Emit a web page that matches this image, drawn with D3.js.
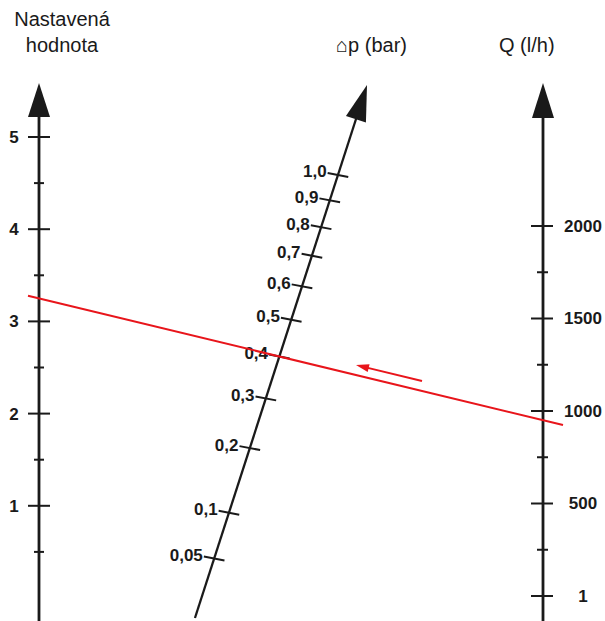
<!DOCTYPE html>
<html><head><meta charset="utf-8">
<script src="https://cdn.jsdelivr.net/npm/d3@7/dist/d3.min.js"></script>
<style>body{margin:0;background:#fff}svg{display:block}</style>
</head><body>
<svg id="c" width="605" height="621"></svg>
<script>
// ---- data ----
const settingMajor = [1, 2, 3, 4, 5];
const settingMinor = [0.5, 1.5, 2.5, 3.5, 4.5];
const dpTicks = [0.05, 0.1, 0.2, 0.3, 0.4, 0.5, 0.6, 0.7, 0.8, 0.9, 1.0];
const dpLabels = ["0,05", "0,1", "0,2", "0,3", "0,4", "0,5", "0,6", "0,7", "0,8", "0,9", "1,0"];
const qMajor = [0, 500, 1000, 1500, 2000];
const qLabels = ["1", "500", "1000", "1500", "2000"];
const qMinor = [250, 750, 1250, 1750];
const reading = {setting: 3.25, dp: 0.4, q: 950};
const titles = ["Nastavená", "hodnota", "⌂p (bar)", "Q (l/h)"];

// ---- scales ----
const svg = d3.select("#c");
const xL = 39, xR = 543;
const yL = d3.scaleLinear().domain([0, 5]).range([598, 137]);
const yR = d3.scaleLinear().domain([0, 2000]).range([596, 226]);
const yM = d3.scaleSqrt().domain([0, 1]).range([669, 175]);
const xM = d3.scaleLinear().domain([669, 85]).range([178.5, 367]);
const ink = "#1a1a1a", red = "#e8151b";
const tf = "Liberation Sans, Arial, sans-serif";
const fs = 17, tfs = 20;

// direction of slanted axis
const dx = xM(85) - xM(669), dy = 85 - 669, len = Math.hypot(dx, dy);
const ux = dx / len, uy = dy / len;       // along axis (up)
const pl = Math.hypot(1, 0.19), px = 1 / pl, py = 0.19 / pl;  // tick direction

// ---- left axis ----
svg.append("line").attr("x1", xL).attr("x2", xL).attr("y1", 110).attr("y2", 621)
  .attr("stroke", ink).attr("stroke-width", 2.8);
svg.append("path").attr("d", `M${xL},83 L${xL-11},117 L${xL+11},117 Z`).attr("fill", ink);
svg.selectAll(".lmaj").data(settingMajor).join("line")
  .attr("x1", xL - 11).attr("x2", xL + 11).attr("y1", d => yL(d)).attr("y2", d => yL(d))
  .attr("stroke", ink).attr("stroke-width", 2);
svg.selectAll(".lmin").data(settingMinor).join("line")
  .attr("x1", xL - 5).attr("x2", xL + 5).attr("y1", d => yL(d)).attr("y2", d => yL(d))
  .attr("stroke", ink).attr("stroke-width", 2);
svg.selectAll(".llab").data(settingMajor).join("text")
  .attr("x", 14).attr("y", d => yL(d)).attr("dy", "0.35em").attr("text-anchor", "middle")
  .attr("font-family", tf).attr("font-weight", "bold")
  .attr("font-size", fs).attr("fill", ink).text(d => d);

// ---- right axis ----
svg.append("line").attr("x1", xR).attr("x2", xR).attr("y1", 110).attr("y2", 621)
  .attr("stroke", ink).attr("stroke-width", 2.8);
svg.append("path").attr("d", `M${xR},83 L${xR-11},118 L${xR+11},118 Z`).attr("fill", ink);
svg.selectAll(".rmaj").data(qMajor).join("line")
  .attr("x1", xR - 12).attr("x2", xR + 10).attr("y1", d => yR(d)).attr("y2", d => yR(d))
  .attr("stroke", ink).attr("stroke-width", 2);
svg.selectAll(".rmin").data(qMinor).join("line")
  .attr("x1", xR - 6).attr("x2", xR + 5).attr("y1", d => yR(d)).attr("y2", d => yR(d))
  .attr("stroke", ink).attr("stroke-width", 2);
svg.selectAll(".rlab").data(qMajor).join("text")
  .attr("x", 583).attr("y", d => yR(d)).attr("dy", "0.35em").attr("text-anchor", "middle")
  .attr("font-family", tf).attr("font-weight", "bold")
  .attr("font-size", fs).attr("fill", ink).text((d, i) => qLabels[i]);

// ---- slanted Δp axis ----
svg.append("line").attr("x1", xM(618)).attr("y1", 618).attr("x2", xM(112)).attr("y2", 112)
  .attr("stroke", ink).attr("stroke-width", 2.3);
{
  const tx = xM(85), ty = 85, bl = 36, hw = 10.5;
  const bx = tx - ux * bl, by = ty - uy * bl;
  const nx = -uy, ny = ux;
  svg.append("path").attr("d",
    `M${tx},${ty} L${bx + nx*hw},${by + ny*hw} L${bx - nx*hw},${by - ny*hw} Z`).attr("fill", ink);
}
const mg = svg.selectAll(".mt").data(dpTicks).join("g");
mg.append("line")
  .attr("x1", d => xM(yM(d)) - px * 10.5).attr("y1", d => yM(d) - py * 10.5)
  .attr("x2", d => xM(yM(d)) + px * 10.5).attr("y2", d => yM(d) + py * 10.5)
  .attr("stroke", ink).attr("stroke-width", 2);
mg.append("text")
  .attr("x", d => xM(yM(d)) - px * 10.5 - 1).attr("y", d => yM(d) - py * 10.5 - 1.5)
  .attr("dy", "0.35em").attr("text-anchor", "end")
  .attr("font-family", tf).attr("font-weight", "bold")
  .attr("font-size", fs).attr("fill", ink).text((d, i) => dpLabels[i]);

// ---- titles ----
svg.append("text").attr("x", 62).attr("y", 26).attr("text-anchor", "middle")
  .attr("font-family", tf).attr("font-size", tfs).attr("fill", ink).text(titles[0]);
svg.append("text").attr("x", 62).attr("y", 52).attr("text-anchor", "middle")
  .attr("font-family", tf).attr("font-size", tfs).attr("fill", ink).text(titles[1]);
svg.append("text").attr("x", 336).attr("y", 52)
  .attr("font-family", tf).attr("font-size", tfs).attr("fill", ink).text(titles[2]);
svg.append("text").attr("x", 499).attr("y", 52)
  .attr("font-family", tf).attr("font-size", tfs).attr("fill", ink).text(titles[3]);

// ---- red reading line ----
const p1 = [xL, yL(reading.setting)], p2 = [xR, yR(reading.q)];
const slope = (p2[1] - p1[1]) / (p2[0] - p1[0]);
const lineY = x => p1[1] + (x - p1[0]) * slope;
svg.append("line").attr("x1", 28).attr("y1", lineY(28)).attr("x2", 563).attr("y2", lineY(563))
  .attr("stroke", red).attr("stroke-width", 2);
// direction arrow (parallel, above the line)
{
  const off = -10, x0 = 422, x1 = 356;
  const ax = x1, ay = lineY(x1) + off;
  const L = Math.hypot(1, slope), vx = 1 / L, vy = slope / L;
  svg.append("line").attr("x1", x0).attr("y1", lineY(x0) + off)
    .attr("x2", ax + vx * 10).attr("y2", ay + vy * 10)
    .attr("stroke", red).attr("stroke-width", 2);
  const bx = ax + vx * 13, by = ay + vy * 13;
  svg.append("path").attr("d",
    `M${ax},${ay} L${bx - vy*4},${by + vx*4} L${bx + vy*4},${by - vx*4} Z`).attr("fill", red);
}
</script>
</body></html>
